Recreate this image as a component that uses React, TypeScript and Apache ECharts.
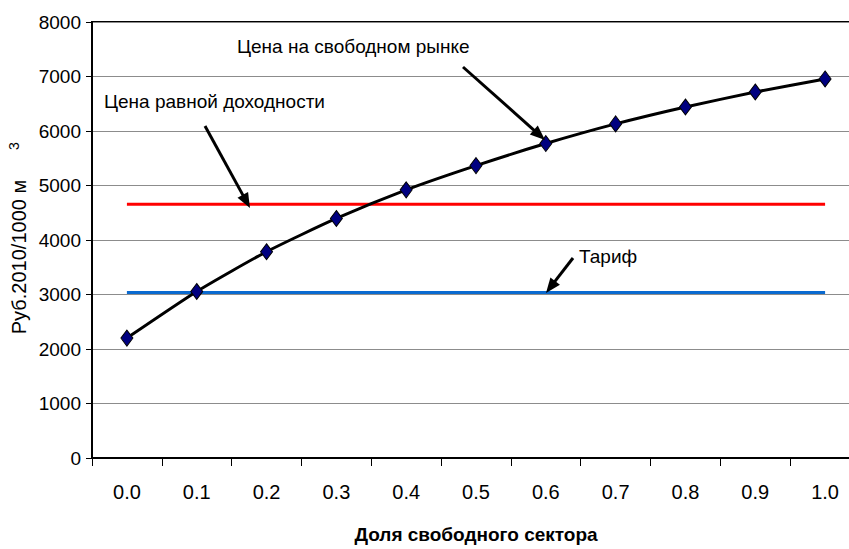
import React, { useEffect, useRef } from "react";
import * as echarts from "echarts";

const categories = ["0.0", "0.1", "0.2", "0.3", "0.4", "0.5", "0.6", "0.7", "0.8", "0.9", "1.0"];
const marketPrice = [2200, 3055, 3785, 4395, 4920, 5365, 5770, 6130, 6440, 6715, 6955];
const equalReturnPrice = 4655;
const tariff = 3035;
const yMin = 0;
const yMax = 8000;
const yInterval = 1000;

const labelMarket = "Цена на свободном рынке";
const labelEqual = "Цена равной доходности";
const labelTariff = "Тариф";
const xTitle = "Доля свободного сектора";
const yTitle = "Руб.2010/1000 м";
const yTitleSup = "3";

const FONT = "'Liberation Sans', Arial, sans-serif";

function arrow(x1: number, y1: number, x2: number, y2: number) {
  const dx = x2 - x1;
  const dy = y2 - y1;
  const L = Math.hypot(dx, dy);
  const ux = dx / L;
  const uy = dy / L;
  const hl = 15;
  const hw = 6;
  const bx = x2 - ux * hl;
  const by = y2 - uy * hl;
  const px = -uy;
  const py = ux;
  return [
    {
      type: "line",
      shape: { x1, y1, x2: bx + ux * 2, y2: by + uy * 2 },
      style: { stroke: "#000", lineWidth: 3 },
      z: 100,
    },
    {
      type: "polygon",
      shape: {
        points: [
          [x2, y2],
          [bx + px * hw, by + py * hw],
          [bx - px * hw, by - py * hw],
        ],
      },
      style: { fill: "#000" },
      z: 100,
    },
  ];
}

export default function App() {
  const ref = useRef<HTMLDivElement>(null);
  useEffect(() => {
    if (!ref.current) return;
    const chart = echarts.init(ref.current, null, { renderer: "svg" });
    const option: any = {
      animation: false,
      backgroundColor: "#fff",
      grid: {
        left: 92,
        top: 22,
        width: 768,
        height: 437,
        show: true,
        borderColor: "#000",
        borderWidth: 2,
        backgroundColor: "transparent",
      },
      xAxis: {
        type: "category",
        data: categories,
        boundaryGap: true,
        axisLine: { show: true, lineStyle: { color: "#000", width: 2 } },
        axisTick: { show: true, length: 8, lineStyle: { color: "#000", width: 1 } },
        axisLabel: { color: "#000", fontFamily: FONT, fontSize: 20, margin: 24 },
        splitLine: { show: false },
        name: xTitle,
        nameLocation: "middle",
        nameGap: 67,
        nameTextStyle: { color: "#000", fontFamily: FONT, fontSize: 19, fontWeight: "bold" },
      },
      yAxis: {
        type: "value",
        min: yMin,
        max: yMax,
        interval: yInterval,
        axisLine: { show: true, lineStyle: { color: "#000", width: 2 } },
        axisTick: { show: true, length: 6, lineStyle: { color: "#000", width: 1 } },
        axisLabel: {
          color: "#000",
          fontFamily: FONT,
          fontSize: 19,
          margin: 11,
          formatter: (v: number) => String(v),
        },
        splitLine: { show: true, lineStyle: { color: "#8c8c8c", width: 1 } },
      },
      series: [
        {
          name: labelEqual,
          type: "line",
          data: categories.map(() => equalReturnPrice),
          symbol: "none",
          lineStyle: { color: "#ff0000", width: 3 },
          itemStyle: { color: "#ff0000" },
          z: 2,
        },
        {
          name: labelTariff,
          type: "line",
          data: categories.map(() => tariff),
          symbol: "none",
          lineStyle: { color: "#0a6ad0", width: 3 },
          itemStyle: { color: "#0a6ad0" },
          z: 2,
        },
        {
          name: labelMarket,
          type: "line",
          data: marketPrice,
          smooth: 0.2,
          symbol: "diamond",
          symbolSize: [12, 16],
          lineStyle: { color: "#000", width: 3 },
          itemStyle: { color: "#000080", borderColor: "#000", borderWidth: 1 },
          z: 3,
        },
      ],
      graphic: [
        {
          type: "text",
          left: 237,
          top: 37,
          style: { text: labelMarket, fill: "#000", font: `19px ${FONT}` },
          z: 100,
        },
        {
          type: "text",
          left: 104,
          top: 92,
          style: { text: labelEqual, fill: "#000", font: `19px ${FONT}` },
          z: 100,
        },
        {
          type: "text",
          left: 579,
          top: 247,
          style: { text: labelTariff, fill: "#000", font: `19px ${FONT}` },
          z: 100,
        },
        ...arrow(463, 67, 545, 140),
        ...arrow(205, 126, 250, 208),
        ...arrow(573, 258, 546, 293),
        {
          type: "text",
          x: 19,
          y: 257,
          rotation: Math.PI / 2,
          style: {
            text: yTitle,
            fill: "#000",
            font: `20px ${FONT}`,
            align: "center",
            verticalAlign: "middle",
          },
        },
        {
          type: "text",
          x: 14,
          y: 146,
          rotation: Math.PI / 2,
          style: {
            text: yTitleSup,
            fill: "#000",
            font: `14px ${FONT}`,
            align: "center",
            verticalAlign: "middle",
          },
        },
      ],
    };
    chart.setOption(option);
    return () => chart.dispose();
  }, []);
  return (
    <div
      ref={ref}
      style={{ position: "fixed", left: 0, top: 0, width: 870, height: 549, background: "#fff" }}
    />
  );
}
